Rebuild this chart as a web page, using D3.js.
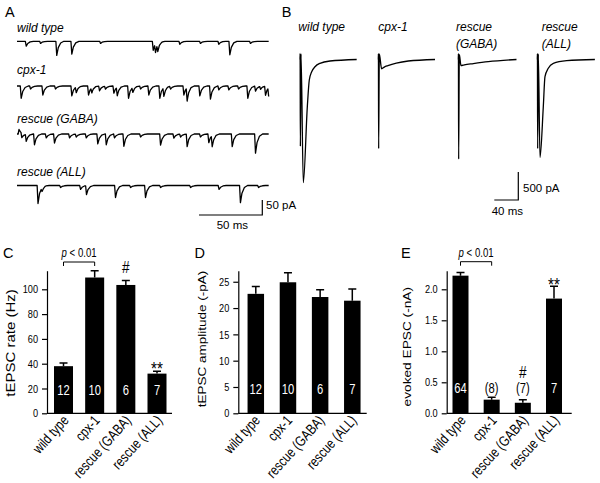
<!DOCTYPE html>
<html>
<head>
<meta charset="utf-8">
<script src="https://cdn.jsdelivr.net/npm/d3@7"></script>
<style>
  body { margin: 0; background: #fff; }
  text { font-family: "Liberation Sans", Arial, Helvetica, sans-serif; }
</style>
</head>
<body>
<div id="fig"></div>
<script>
const width = 600;
const height = 483;

const genotypes = ["wild type", "cpx-1", "rescue (GABA)", "rescue (ALL)"];

// A: spontaneous events, [time (ms), amplitude (pA)]
// negative amplitude = upward blip
const eventsWT = [[6.9, 16], [18.2, 7], [31.0, 47], [42.9, 43], [65.6, 7], [107.2, 30], [109.0, 27],
  [110.8, 22], [128.2, 10], [144.5, 7], [159.0, 10], [167.7, 45], [184, 7]];
const eventsCpx = [[2.9, 41], [10.3, 10], [20.0, 30], [30, 10], [42.9, 33], [46.4, 19], [56.1, 30],
  [58.7, 17], [64.8, 16], [69.5, 10], [76.1, 24], [78.8, 28], [87.7, 41], [91.1, 17], [97.2, 10],
  [103.7, 30], [112.4, 41], [115.6, 30], [120.9, 10], [131.4, 30], [134.0, 44], [144.0, 33],
  [152.4, 44], [159.0, 13], [166.9, 13], [174.6, 10], [181.9, 41], [188.0, 17], [192, 10],
  [195.9, 30], [198.5, 33]];
const eventsGABA = [[1.2, -15], [3.4, 16], [6.9, 23], [13.4, 36], [22.7, 13], [29.2, 30], [41.1, 13],
  [46.4, 10], [54.3, 13], [63.4, 33], [70.1, 36], [76.6, 13], [84.0, 41], [97.2, 10], [113.0, 37],
  [123.5, 14], [128.8, 10], [134.0, 42], [144.5, 10], [151.1, 29], [153.8, 37], [169.6, 42], [188.0, 64]];
const eventsALL = [[16.2, 60], [19.4, 13], [34, 7], [49.8, 13], [54.5, 30], [77.4, 40], [89.3, 7],
  [101.1, 40], [113, 7], [136.7, 7], [159.2, 13], [176.1, 57], [190.4, 7]];
const traceDuration = 198.8; // ms

// B: evoked responses, [time after stimulus (ms), current (pA)]
const evokedWT = [[0, 0], [0.2, 110], [0.6, -1550], [1.7, 100], [5.5, -2200], [12.2, -843], [15.5, -366],
  [19.5, -218], [25, -129], [33.3, -68], [50, -27], [94.5, 0]];
const evokedCpx = [[0, 0], [0.2, 110], [0.6, -1590], [1.7, 100], [5.5, -165], [10, -135], [16, -110],
  [30, -65], [50, -27], [94.5, 0]];
const evokedGABA = [[0, 0], [0.2, 110], [0.6, -1780], [1.7, 90], [4.5, -110], [10, -95], [25, -72],
  [50, -38], [97, 0]];
const evokedALL = [[0, 0], [0.2, 110], [0.6, -1590], [1.7, 100], [4.5, -1750], [10, -843], [12.8, -307],
  [18.3, -157], [26.7, -68], [49, -21], [96, 0]];

// C, D, E: means, SEM and n
const rateMean = [38, 109.5, 103.5, 32];
const rateSem = [2.5, 5.5, 3.5, 2];
const rateN = ["12", "10", "6", "7"];
const rateTicks = [0, 20, 40, 60, 80, 100];

const ampMean = [22.7, 24.9, 22.1, 21.4];
const ampSem = [1.4, 1.8, 1.4, 2.2];
const ampN = ["12", "10", "6", "7"];
const ampTicks = [0, 5, 10, 15, 20, 25];

const evokedMean = [2.22, 0.22, 0.17, 1.85];
const evokedSem = [0.05, 0.04, 0.05, 0.2];
const evokedN = ["64", "(8)", "(7)", "7"];
const evokedTicks = [0, 0.5, 1.0, 1.5, 2.0];

const svg = d3.select("#fig").append("svg")
    .attr("width", width)
    .attr("height", height)
    .style("background", "#fff");

function letter(t, x, y) {
  svg.append("text").attr("x", x).attr("y", y)
      .attr("font-size", 14.5).text(t);
}

// ---------- A: spontaneous traces ----------
const xA = d3.scaleLinear().domain([0, 200]).range([17, 270.2]);
const pxPerPA = 0.3;
// shape of one event, fraction of peak vs time from onset
const kernel = d3.scaleLinear()
    .domain([-0.3, 0.4, 1.6, 3.5, 6])
    .range([0, 1, 0.45, 0.12, 0])
    .clamp(true);

function tracePoints(events) {
  let times = [0, traceDuration];
  events.forEach(e => kernel.domain().forEach(k => times.push(e[0] + k)));
  times = times.filter(t => t >= 0 && t <= traceDuration).sort((a, b) => a - b);
  return times.map(t => [t, d3.sum(events, e => e[1] * kernel(t - e[0]))]);
}

const tracesA = [
  { label: "wild type", events: eventsWT, base: 41.3, labelY: 31.5 },
  { label: "cpx-1", events: eventsCpx, base: 86, labelY: 73.5 },
  { label: "rescue (GABA)", events: eventsGABA, base: 134, labelY: 122.5 },
  { label: "rescue (ALL)", events: eventsALL, base: 185.5, labelY: 176 }
];

letter("A", 5, 16.8);
tracesA.forEach(tr => {
  const y = d3.scaleLinear().domain([0, 50]).range([tr.base, tr.base + 50 * pxPerPA]);
  const line = d3.line().x(d => xA(d[0])).y(d => y(d[1]));
  svg.append("path")
      .attr("d", line(tracePoints(tr.events)))
      .attr("fill", "none").attr("stroke", "#000")
      .attr("stroke-width", 1.3).attr("stroke-linejoin", "round");
  svg.append("text").attr("x", 17).attr("y", tr.labelY)
      .attr("font-size", 12).attr("font-style", "italic").text(tr.label);
});

// scale bar A: 50 ms, 50 pA
const barAx = 262.3, barAy = 215;
svg.append("path")
    .attr("d", `M${barAx - (xA(50) - xA(0))},${barAy}H${barAx}V${barAy - 50 * pxPerPA}`)
    .attr("fill", "none").attr("stroke", "#000").attr("stroke-width", 1.2);
svg.append("text").attr("x", 266).attr("y", 209).attr("font-size", 11.5).text("50 pA");
svg.append("text").attr("x", 216.7).attr("y", 229).attr("font-size", 11.5).text("50 ms");

// ---------- B: evoked traces ----------
const yB = d3.scaleLinear().domain([-2200, 0]).range([182.7, 59.5]);
const msPerPx = 1.667;
const tracesB = [
  { lines: ["wild type"], data: evokedWT, x0: 300, lx: 298.3 },
  { lines: ["cpx-1"], data: evokedCpx, x0: 378.3, lx: 378.3 },
  { lines: ["rescue", "(GABA)"], data: evokedGABA, x0: 458.3, lx: 456 },
  { lines: ["rescue", "(ALL)"], data: evokedALL, x0: 537.3, lx: 541.7 }
];

letter("B", 281.7, 16.8);
tracesB.forEach(tr => {
  const x = d3.scaleLinear().domain([0, 40]).range([tr.x0, tr.x0 + 40 / msPerPx]);
  const line = d3.line().x(d => x(d[0])).y(d => yB(d[1])).curve(d3.curveMonotoneX);
  svg.append("path")
      .attr("d", line(tr.data))
      .attr("fill", "none").attr("stroke", "#000")
      .attr("stroke-width", 1.3).attr("stroke-linejoin", "round");
  tr.lines.forEach((l, i) => {
    svg.append("text").attr("x", tr.lx).attr("y", 31 + i * 17)
        .attr("font-size", 12).attr("font-style", "italic").text(l);
  });
});

// scale bar B: 40 ms, 500 pA
const barBx = 518.3, barBy = 200;
svg.append("path")
    .attr("d", `M${barBx - 40 / msPerPx},${barBy}H${barBx}V${barBy - (yB(-500) - yB(0))}`)
    .attr("fill", "none").attr("stroke", "#000").attr("stroke-width", 1.2);
svg.append("text").attr("x", 523).attr("y", 191.5).attr("font-size", 11.5).text("500 pA");
svg.append("text").attr("x", 491.7).attr("y", 215).attr("font-size", 11.5).text("40 ms");

// ---------- C, D, E: bar charts ----------
const squeeze = 0.8;

function barPanel(cfg) {
  const y = d3.scaleLinear().domain([0, cfg.yMax]).range([413.3, 270.7]);
  const x = d3.scalePoint().domain(genotypes).range([cfg.first, cfg.last]);
  const g = svg.append("g");

  letter(cfg.letter, cfg.letterX, 257.5);

  // bars
  g.selectAll("rect.bar").data(cfg.mean).join("rect")
      .attr("x", (d, i) => x(genotypes[i]) - cfg.barW / 2)
      .attr("y", d => y(d))
      .attr("width", cfg.barW)
      .attr("height", d => y(0) - y(d))
      .attr("fill", "#000");

  // error bars (upward only)
  cfg.mean.forEach((m, i) => {
    const cx = x(genotypes[i]);
    g.append("path")
        .attr("d", `M${cx},${y(m)}V${y(m + cfg.sem[i])}M${cx - 4},${y(m + cfg.sem[i])}H${cx + 4}`)
        .attr("stroke", "#000").attr("stroke-width", 1.5).attr("fill", "none");
  });

  // y axis
  const axis = g.append("g")
      .attr("transform", `translate(${cfg.axisX},0)`)
      .call(d3.axisLeft(y).tickValues(cfg.ticks).tickSize(5).tickSizeOuter(0)
          .tickFormat(cfg.fmt || d3.format("d")));
  axis.select(".domain").attr("stroke-width", 1.2);
  axis.selectAll(".tick line").attr("stroke-width", 1.2);
  axis.selectAll(".tick text")
      .attr("font-size", 11.5)
      .attr("font-family", "Liberation Sans, Arial, sans-serif")
      .attr("x", -9 / squeeze)
      .attr("transform", `scale(${squeeze},1)`);

  // x axis line
  g.append("line")
      .attr("x1", cfg.axisX).attr("x2", cfg.xEnd)
      .attr("y1", y(0)).attr("y2", y(0))
      .attr("stroke", "#000").attr("stroke-width", 1.2);

  // category labels
  genotypes.forEach(name => {
    g.append("text")
        .attr("transform", `translate(${x(name) + cfg.labDx},421) rotate(-48) scale(${squeeze},1)`)
        .attr("text-anchor", "end").attr("font-size", 14.5)
        .text(name);
  });

  // y label
  g.append("text")
      .attr("transform", `translate(${cfg.ylabX},${cfg.ylabY}) scale(${squeeze},1) rotate(-90)`)
      .attr("text-anchor", "middle").attr("font-size", cfg.ylabSize)
      .text(cfg.ylab);

  // n labels
  cfg.n.forEach((n, i) => {
    const inside = cfg.mean[i] > cfg.yMax * 0.2;
    g.append("text")
        .attr("transform", `translate(${x(genotypes[i])},${cfg.nY}) scale(${squeeze},1)`)
        .attr("text-anchor", "middle").attr("font-size", 14)
        .attr("fill", inside ? "#fff" : "#000")
        .text(n);
  });

  return { x, y, g };
}

function bracket(p, a, b, yLine) {
  const x1 = p.x(genotypes[a]), x2 = p.x(genotypes[b]);
  p.g.append("path")
      .attr("d", `M${x1},${yLine + 4}V${yLine}H${x2}V${yLine + 4}`)
      .attr("fill", "none").attr("stroke", "#000").attr("stroke-width", 1);
  const t = p.g.append("text")
      .attr("transform", `translate(${(x1 + x2) / 2},${yLine - 5}) scale(${squeeze},1)`)
      .attr("text-anchor", "middle").attr("font-size", 12);
  t.append("tspan").attr("font-style", "italic").text("p");
  t.append("tspan").text(" < 0.01");
}

function mark(p, i, s, yBase, size) {
  p.g.append("text")
      .attr("transform", `translate(${p.x(genotypes[i])},${yBase}) scale(${squeeze},1)`)
      .attr("text-anchor", "middle").attr("font-size", size)
      .text(s);
}

const pC = barPanel({
  letter: "C", letterX: 3, mean: rateMean, sem: rateSem, n: rateN, ticks: rateTicks,
  yMax: 115, axisX: 47, xEnd: 172, first: 63.5, last: 157, barW: 19, labDx: 6,
  ylab: "tEPSC rate (Hz)", ylabX: 15, ylabY: 343, ylabSize: 15, nY: 395
});
bracket(pC, 0, 1, 262);
mark(pC, 2, "#", 273.3, 17);
mark(pC, 3, "**", 375, 19);

const pD = barPanel({
  letter: "D", letterX: 194.5, mean: ampMean, sem: ampSem, n: ampN, ticks: ampTicks,
  yMax: 27.1, axisX: 238.3, xEnd: 366.7, first: 255.8, last: 352.3, barW: 16.5, labDx: 5,
  ylab: "tEPSC amplitude (-pA)", ylabX: 206, ylabY: 339, ylabSize: 13.5, nY: 393.5
});

const pE = barPanel({
  letter: "E", letterX: 401, mean: evokedMean, sem: evokedSem, n: evokedN, ticks: evokedTicks,
  fmt: d3.format(".1f"),
  yMax: 2.3, axisX: 446.7, xEnd: 571.7, first: 460.5, last: 554, barW: 16, labDx: 6,
  ylab: "evoked EPSC (-nA)", ylabX: 410.5, ylabY: 346.7, ylabSize: 13.7, nY: 393
});
bracket(pE, 0, 1, 261.7);
mark(pE, 2, "#", 378.3, 17);
mark(pE, 3, "**", 291, 19);
</script>
</body>
</html>
